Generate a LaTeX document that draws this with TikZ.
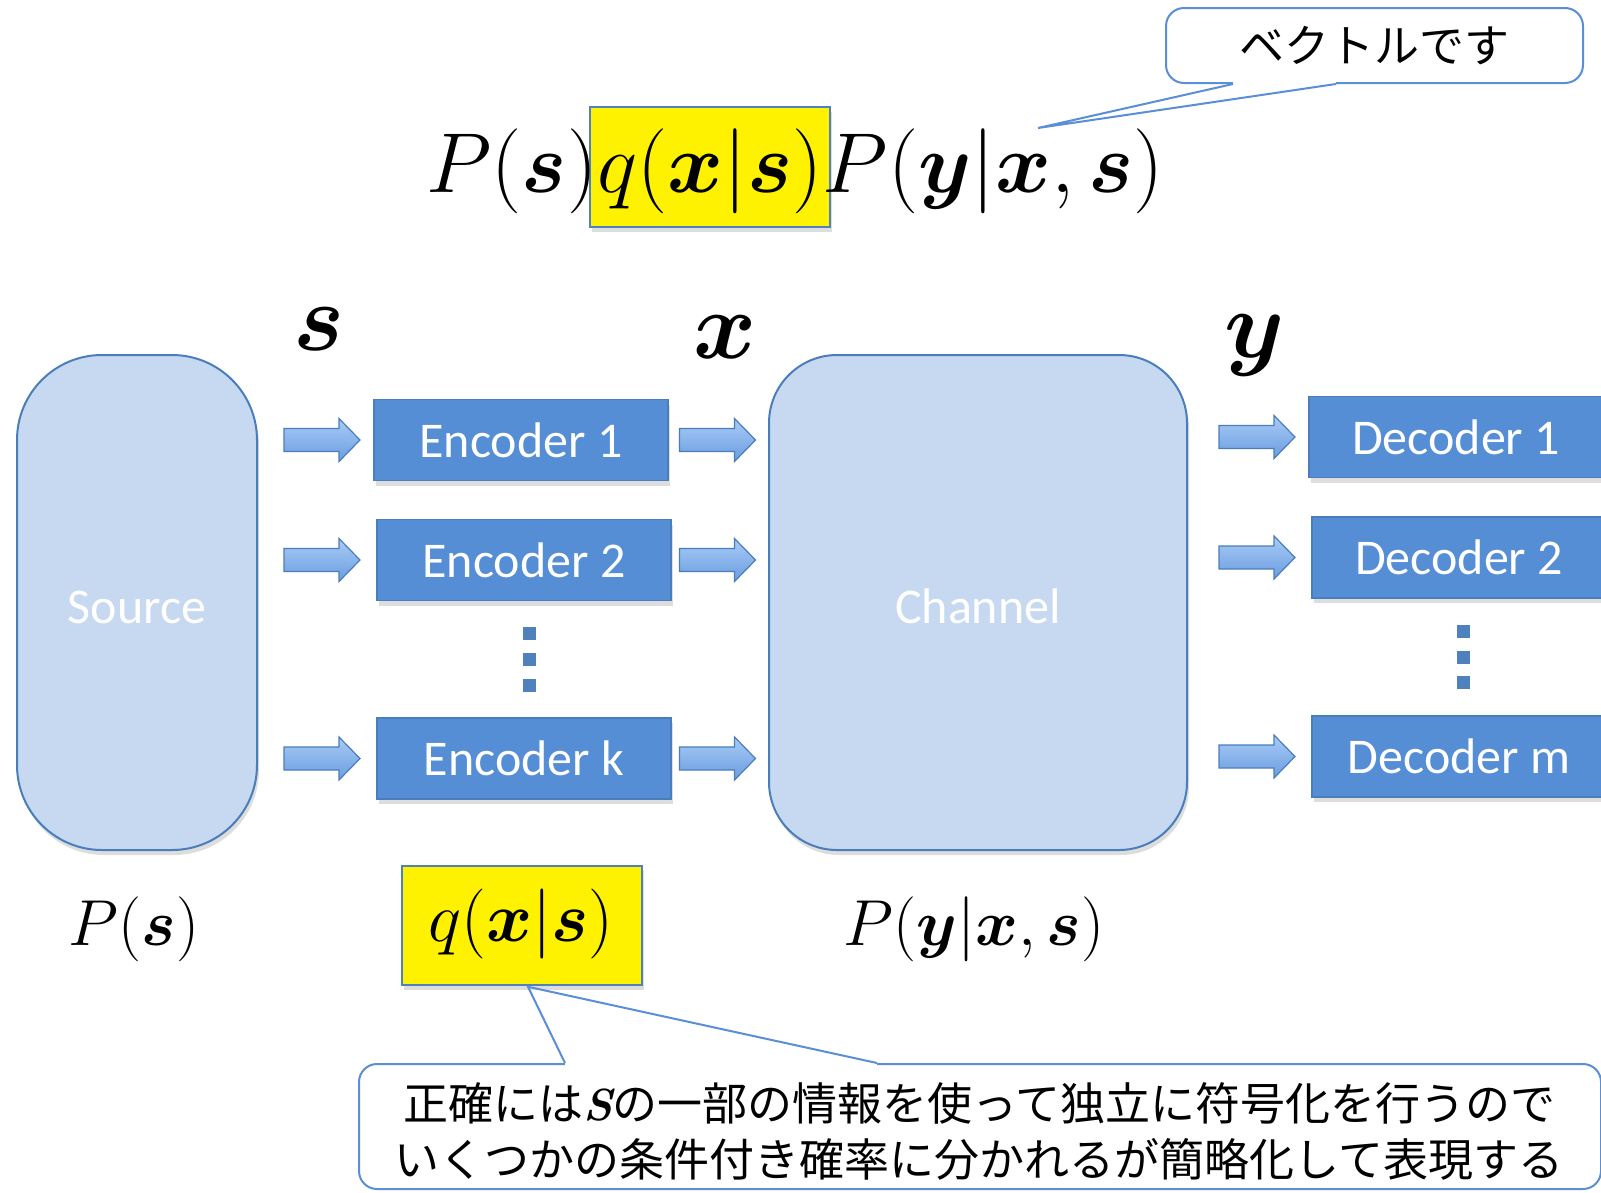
\documentclass[tikz,border=0pt]{standalone}
\usepackage{fix-cm}
\usepackage{amsmath,bm}
\usepackage{fontspec}
\newfontfamily\cjk{Noto Sans CJK JP}
\newfontfamily\carl{Carlito}
\usetikzlibrary{shadows,calc}
\definecolor{encfill}{HTML}{558ED5}
\definecolor{encline}{HTML}{4A7EBB}
\definecolor{lightfill}{HTML}{C6D9F1}
\definecolor{calline}{HTML}{5A8ED6}
\definecolor{arrtop}{HTML}{A9CBF6}
\definecolor{arrbot}{HTML}{6A9DE0}
\definecolor{dotc}{HTML}{4F81BD}
\tikzset{
  myshadow/.style={drop shadow={shadow xshift=2pt,shadow yshift=-5pt,opacity=0.22,fill=black!60}},
  encbox/.style={draw=encline, line width=1.5pt, fill=encfill, minimum width=294pt, minimum height=81pt,
    inner sep=0pt, text=white, font=\carl\fontsize{50}{60}\selectfont, myshadow},
  bigbox/.style={draw=encline, line width=2pt, fill=lightfill, minimum height=495pt,
    inner sep=0pt, text=white, font=\carl\fontsize{50}{60}\selectfont, myshadow},
  ybox/.style={draw=dotc, line width=1.5pt, fill=yellow, inner sep=0pt, myshadow},
  fmlT/.style={inner sep=0pt, font=\fontsize{85}{100}\selectfont},
  fmlB/.style={inner sep=0pt, font=\fontsize{65}{78}\selectfont},
  fmlQ/.style={inner sep=0pt, font=\fontsize{70}{84}\selectfont},
  lab/.style={inner sep=0pt, font=\fontsize{96}{110}\selectfont},
  callbox/.style={draw=calline, line width=2pt, fill=white, rounded corners=18pt, inner sep=0pt},
  tailline/.style={draw=calline, line width=2pt, line join=miter},
  dotsq/.style={fill=dotc},
  barrow/.pic={\draw[line width=1.2pt, draw=encline, top color=arrtop, bottom color=arrbot]
    (-38,-11.5) -- (17,-11.5) -- (17,-21.5) -- (38,0) -- (17,21.5) -- (17,11.5) -- (-38,11.5) -- cycle;}
}
\begin{document}
\begin{tikzpicture}[x=1pt,y=-1pt]
\useasboundingbox (0,0) rectangle (1601,1192);
\fill[white] (0,0) rectangle (1601,1192);

% ---- top formula
\node[ybox, minimum width=240pt, minimum height=120pt] (tq) at (710,167) {};
\node[fmlT, anchor=base] (tqt) at (710,192) {$q(\bm{x}|\bm{s})$};
\node[fmlT, anchor=base east] (tP1) at (tqt.base west) {$P(\bm{s})$};
\node[fmlT, anchor=base west] (tP2) at (tqt.base east) {$P(\bm{y}|\bm{x},\bm{s})$};

% ---- signal labels
\node[lab, anchor=base] (ls) at (319,350) {$\bm{s}$};
\node[lab, anchor=base] (lx) at (725,358) {$\bm{x}$};
\node[lab, anchor=base] (ly) at (1255,357) {$\bm{y}$};

% ---- main blocks
\node[bigbox, minimum width=240pt, rounded corners=85pt] (src) at (137,602.5)
  {\raisebox{-5pt}[\height][\depth]{Source}};
\node[bigbox, minimum width=418pt, rounded corners=68pt] (ch) at (978,602.5)
  {\raisebox{-4pt}[\height][\depth]{Channel}};

\node[encbox] (enc1) at (521,440) {Encoder 1};
\node[encbox] (enc2) at (524,560) {Encoder 2};
\node[encbox] (enck) at (524,758.5) {Encoder k};

\node[encbox] (dec1) at (1456,437) {Decoder 1};
\node[encbox] (dec2) at (1459,557.5) {Decoder 2};
\node[encbox] (decm) at (1459,756.5) {Decoder m};

% ---- block arrows
\foreach \e in {enc1,enc2,enck}{
  \pic at ($(src.east |- \e.west)+(64,0)$) {barrow};
  \pic at ($(ch.west |- \e.east)+(-50.5,0)$) {barrow};
}
\foreach \d in {dec1,dec2,decm}{
  \pic at ($(ch.east |- \d.west)+(69,0)$) {barrow};
}

% ---- vertical dots
\foreach \yy in {633,659,685}{
  \fill[dotsq] ({529-6.5},{\yy-6.5}) rectangle ++(13,13);
}
\foreach \yy in {631,657,682}{
  \fill[dotsq] ({1463-6.5},{\yy-6.5}) rectangle ++(13,13);
}

% ---- bottom formulas
\node[fmlB, anchor=base] (bPs) at (134,945) {$P(\bm{s})$};
\node[ybox, minimum width=240pt, minimum height=119pt] (qb) at (522,925.5) {};
\node[fmlQ, anchor=base] (qbt) at (521,941) {$q(\bm{x}|\bm{s})$};
\node[fmlB, anchor=base] (bPy) at (974,945) {$P(\bm{y}|\bm{x},\bm{s})$};

% ---- top callout
\node[callbox, minimum width=417pt, minimum height=75pt,
      font=\cjk\fontsize{45}{54}\selectfont] (tc) at (1374.5,45.5) {ベクトルです};
\coordinate (tcA) at ($(tc.south west)+(68,0)$);
\coordinate (tcB) at ($(tc.south west)+(171,0)$);
\coordinate (tctip) at (1038,128);
\fill[white] ($(tcA)+(0,-3)$) rectangle ($(tcB)+(0,3)$);
\draw[tailline] (tcA) -- (tctip) -- (tcB);

% ---- bottom callout
\node[callbox, minimum width=1242pt, minimum height=125pt] (bc) at (980,1126.5) {};
\node[font=\cjk\fontsize{45}{56}\selectfont, align=center, inner sep=0pt] (bct) at (979,1131)
  {正確には{\rmfamily\bfseries\itshape S}の一部の情報を使って独立に符号化を行うので\\
   いくつかの条件付き確率に分かれるが簡略化して表現する};
\coordinate (bcA) at ($(bc.north west)+(207,0)$);
\coordinate (bcB) at ($(bc.north west)+(519,0)$);
\coordinate (qtip) at ($(qb.south)+(6,1)$);
\fill[white] ($(bcA)+(0,-3)$) rectangle ($(bcB)+(0,3)$);
\draw[tailline] (bcA) -- (qtip) -- (bcB);
\end{tikzpicture}
\end{document}
